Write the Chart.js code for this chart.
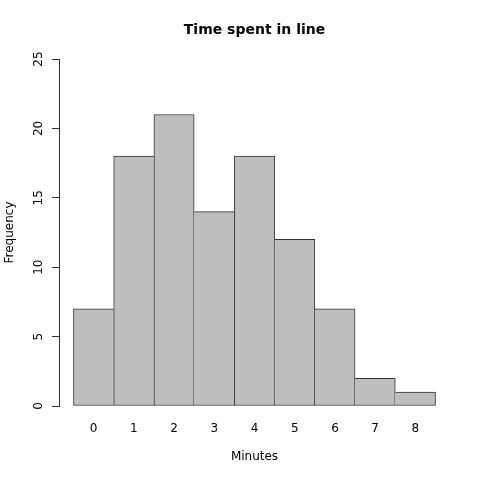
<!DOCTYPE html>
<html lang="en">
<head>
<meta charset="UTF-8">
<title>Time spent in line</title>
<script src="https://cdn.jsdelivr.net/npm/chart.js"></script>
<style>
  body { margin: 0; background: #fff; }
  #wrap { width: 480px; height: 480px; }
</style>
</head>
<body>
<div id="wrap"><canvas id="hist" width="480" height="480"></canvas></div>
<script>
// histogram data: one bar per minute
const minutes = ['0', '1', '2', '3', '4', '5', '6', '7', '8'];
const counts = [7, 18, 21, 14, 18, 12, 7, 2, 1];
const yTicks = [0, 5, 10, 15, 20, 25];

const font = 'DejaVu Sans, Verdana, sans-serif';
const lineCol = '#333333';

// shared edges: let the taller neighbour draw it, so the line is 1px and full height
function edges(c) {
  const i = c.dataIndex;
  const v = counts[i];
  const left = i === 0 || v > counts[i - 1] ? 1 : 0;
  const right = i === counts.length - 1 || v >= counts[i + 1] ? 1 : 0;
  return { top: 1, bottom: 1, left, right };
}

const ctx = document.getElementById('hist').getContext('2d');
new Chart(ctx, {
  type: 'bar',
  data: {
    datasets: [{
      data: counts.map((c, i) => ({ x: i + 0.5, y: c })),
      backgroundColor: '#bebebe',
      borderColor: lineCol,
      borderSkipped: false,
      borderWidth: edges,
      barPercentage: 1,
      categoryPercentage: 1
    }]
  },
  options: {
    responsive: false,
    animation: false,
    layout: { padding: { left: 0, right: 30, top: 0, bottom: 0 } },
    plugins: {
      legend: { display: false },
      tooltip: { enabled: false },
      title: {
        display: true,
        text: 'Time spent in line',
        fullSize: false,
        color: '#000',
        font: { family: font, size: 14, weight: 'bold' },
        padding: { top: 22, bottom: 20.2 }
      }
    },
    scales: {
      x: {
        type: 'linear',
        offset: false,
        min: -0.36,
        max: 9.36,
        afterFit: s => { s.height = 74; },
        afterBuildTicks: s => { s.ticks = minutes.map((m, i) => ({ value: i + 0.5 })); },
        grid: { display: false, drawTicks: false },
        border: { display: false },
        ticks: {
          color: '#000',
          font: { family: font, size: 12 },
          padding: 16,
          maxRotation: 0,
          callback: v => minutes[Math.round(v - 0.5)]
        },
        title: {
          display: true,
          text: 'Minutes',
          color: '#000',
          font: { family: font, size: 12 },
          padding: { top: 0, bottom: 15.8 }
        }
      },
      y: {
        min: 0,
        max: 25,
        afterFit: s => { s.width = 59; },
        afterBuildTicks: s => { s.ticks = yTicks.map(v => ({ value: v })); },
        grid: { drawOnChartArea: false, drawTicks: true, tickLength: 7, color: lineCol },
        border: { display: true, color: lineCol },
        ticks: {
          color: '#000',
          font: { family: font, size: 12 },
          minRotation: 90,
          maxRotation: 90,
          crossAlign: 'center',
          padding: 5
        },
        title: {
          display: true,
          text: 'Frequency',
          color: '#000',
          font: { family: font, size: 12 },
          padding: { top: 3, bottom: 0 }
        }
      }
    }
  }
});
</script>
</body>
</html>
